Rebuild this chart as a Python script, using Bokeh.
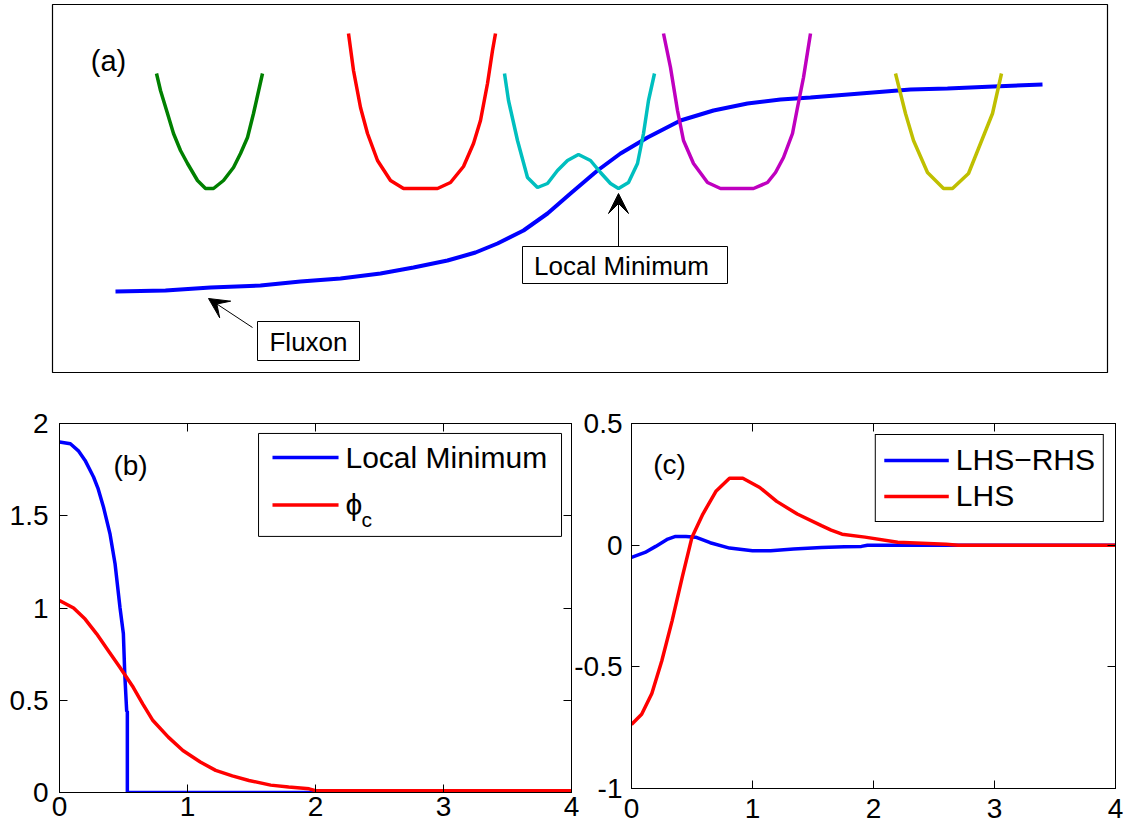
from bokeh.plotting import figure
from bokeh.models import (Range1d, LinearAxis, FixedTicker, Legend, LegendItem,
                          Arrow, VeeHead, CustomLabelingPolicy)
from bokeh.layouts import column, row
from bokeh.embed import file_html
from bokeh.resources import INLINE
from bokeh.core.properties import value

FONT = "Liberation Sans"

# ---------------- Panel (a): schematic (coordinates in picture units) ----------------
fluxon_x = [115, 165, 210, 260, 300, 340, 380, 413, 447, 475, 497, 523, 547, 570, 597, 620,
            647, 680, 713, 747, 780, 810, 860, 910, 947, 993, 1042]
fluxon_y = [291, 290, 287, 285, 281, 278, 273, 267, 260, 252, 243, 230, 213, 193, 170, 153,
            137, 120, 110, 103, 99, 97, 93, 89, 88, 86, 84]

well_green_x = [156, 160, 167, 173, 180, 187, 197, 205, 213, 223, 233, 240, 247, 253, 262]
well_green_y = [73, 90, 113, 133, 150, 163, 180, 188, 188, 180, 167, 153, 137, 113, 73]

well_red_x = [348, 353, 360, 367, 377, 390, 403, 437, 450, 463, 473, 480, 487, 492, 495]
well_red_y = [33, 70, 107, 133, 160, 180, 188, 188, 182, 166, 143, 120, 83, 50, 33]

well_cyan_x = [504, 508, 517, 527, 537, 547, 557, 567, 578, 590, 600, 610, 618, 628, 637, 643, 648, 654]
well_cyan_y = [73, 100, 140, 177, 187, 183, 170, 160, 154, 160, 172, 183, 188, 182, 163, 133, 100, 73]

well_mag_x = [663, 670, 677, 683, 693, 707, 720, 753, 767, 775, 783, 792, 797, 803, 810]
well_mag_y = [33, 67, 110, 140, 163, 182, 188, 188, 182, 172, 157, 133, 107, 77, 33]

well_yel_x = [895, 905, 913, 927, 943, 952, 968, 980, 992, 1001]
well_yel_y = [73, 113, 140, 172, 188, 188, 173, 143, 113, 73]

# ---------------- Panel (b) ----------------
b_x_locmin = [0, 0.085, 0.15, 0.2, 0.266, 0.3, 0.344, 0.395, 0.434, 0.473, 0.499, 0.51, 0.525, 0.53, 0.53, 4.0]
b_y_locmin = [1.90, 1.89, 1.85, 1.80, 1.71, 1.65, 1.546, 1.40, 1.24, 1.00, 0.86, 0.64, 0.44, 0.44, 0.0, 0.0]

b_x_phic = [0, 0.11, 0.2, 0.29, 0.38, 0.47, 0.576, 0.65, 0.73, 0.85, 0.964, 1.1, 1.22, 1.35,
            1.48, 1.65, 1.79, 1.95, 2.0, 3.0, 4.0]
b_y_phic = [1.04, 1.00, 0.94, 0.86, 0.77, 0.68, 0.57, 0.48, 0.39, 0.30, 0.228, 0.165, 0.12, 0.09,
            0.065, 0.04, 0.03, 0.02, 0.01, 0.01, 0.01]

# ---------------- Panel (c) ----------------
c_x_diff = [0, 0.112, 0.2, 0.3, 0.364, 0.45, 0.53, 0.65, 0.81, 1.0, 1.15, 1.34, 1.57, 1.76, 1.9, 1.95, 4.0]
c_y_diff = [-0.05, -0.03, -0.005, 0.025, 0.036, 0.036, 0.033, 0.01, -0.012, -0.023, -0.023, -0.016,
            -0.01, -0.006, -0.005, 0.0, 0.0]

c_x_lhs = [0, 0.084, 0.168, 0.25, 0.336, 0.42, 0.5, 0.59, 0.70, 0.81, 0.92, 1.06, 1.2, 1.37,
           1.57, 1.65, 1.74, 1.93, 2.2, 2.6, 2.7, 4.0]
c_y_lhs = [-0.737, -0.695, -0.61, -0.476, -0.31, -0.13, 0.033, 0.128, 0.223, 0.275, 0.275, 0.237,
           0.18, 0.128, 0.08, 0.062, 0.045, 0.033, 0.012, 0.004, 0.0, 0.0]

b_xticks = [0, 1, 2, 3, 4]
b_yticks = [0, 0.5, 1, 1.5, 2]
c_xticks = [0, 1, 2, 3, 4]
c_yticks = [-1, -0.5, 0, 0.5]
tick_text = {-1: "-1", -0.5: "-0.5", 0: "0", 0.5: "0.5", 1: "1", 1.5: "1.5", 2: "2", 3: "3", 4: "4"}

# legend of panel (b) (placed in axis units of panel b)
b_leg_labels = ["Local Minimum", "\u03d5"]
b_leg_box = (1.555, 3.922, 1.946, 1.388)      # left, right, top, bottom
b_leg_swatch_x = [1.664, 2.18]
b_leg_entry_y = [1.816, 1.558]
b_leg_text_x = 2.234

BLUE = "#0000ff"
RED = "#ff0000"

# ================= figure (a) =================
pa = figure(frame_width=1055, frame_height=369, min_border_left=52, min_border_right=28,
            min_border_top=4, min_border_bottom=0, x_range=Range1d(52, 1107),
            y_range=Range1d(373, 4), x_axis_type=None, y_axis_type=None, title=None,
            toolbar_location=None, output_backend="svg")
pa.grid.visible = False
pa.outline_line_color = "black"
pa.outline_line_width = 1.2

pa.line(fluxon_x, fluxon_y, line_color=BLUE, line_width=4)
pa.line(well_green_x, well_green_y, line_color="#008000", line_width=3.5)
pa.line(well_red_x, well_red_y, line_color=RED, line_width=3.5)
pa.line(well_cyan_x, well_cyan_y, line_color="#00bfbf", line_width=3.5)
pa.line(well_mag_x, well_mag_y, line_color="#bf00bf", line_width=3.5)
pa.line(well_yel_x, well_yel_y, line_color="#bfbf00", line_width=3.5)

pa.text(x=[108], y=[60], text=["(a)"], text_font=value(FONT), text_font_size="29px",
        text_align="center", text_baseline="middle", text_color="black")

box_left = [257, 522]
box_right = [359, 727]
box_top = [321, 246]
box_bottom = [360, 283]
pa.quad(left=box_left, right=box_right, top=box_top, bottom=box_bottom,
        fill_color="white", line_color="black", line_width=1)
pa.text(x=[308, 621], y=[341, 265], text=["Fluxon", "Local Minimum"], text_font=value(FONT),
        text_font_size="26px", text_align="center", text_baseline="middle", text_color="black")

pa.add_layout(Arrow(x_start=252, y_start=327, x_end=208, y_end=298, line_width=1,
                    line_color="black",
                    end=VeeHead(size=20, fill_color="black", line_color="black")))
pa.add_layout(Arrow(x_start=618, y_start=246, x_end=618, y_end=193, line_width=1,
                    line_color="black",
                    end=VeeHead(size=20, fill_color="black", line_color="black")))

HIDE_LABELS = "for (const i of indices) { indices.unset(i) }\nreturn indices"


def style_axes(p, xticks, yticks, xstand, ystand):
    for ax in p.xaxis + p.yaxis:
        ax.major_label_text_font = FONT
        ax.major_label_text_font_size = "28px"
        ax.major_label_text_color = "black"
        ax.major_tick_in = 8
        ax.major_tick_out = 0
        ax.minor_tick_line_color = None
        ax.axis_line_color = "black"
        ax.major_tick_line_color = "black"
        ax.major_label_overrides = tick_text
    p.xaxis.ticker = FixedTicker(ticks=xticks)
    p.yaxis.ticker = FixedTicker(ticks=yticks)
    p.xaxis.major_label_standoff = xstand
    p.yaxis.major_label_standoff = ystand
    p.grid.visible = False
    p.outline_line_color = "black"
    p.outline_line_width = 1
    # mirrored ticks (box on), without labels
    top = LinearAxis(ticker=FixedTicker(ticks=xticks), major_label_text_font_size="0px",
                     major_tick_in=8, major_tick_out=0, minor_tick_line_color=None,
                     major_label_standoff=0, axis_line_color="black",
                     major_label_policy=CustomLabelingPolicy(code=HIDE_LABELS))
    right = LinearAxis(ticker=FixedTicker(ticks=yticks), major_label_text_font_size="0px",
                       major_tick_in=8, major_tick_out=0, minor_tick_line_color=None,
                       major_label_standoff=0, axis_line_color="black",
                       major_label_policy=CustomLabelingPolicy(code=HIDE_LABELS))
    p.add_layout(top, "above")
    p.add_layout(right, "right")


# ================= figure (b) =================
pb = figure(frame_width=512, frame_height=369, min_border_left=59, min_border_right=10,
            min_border_top=50, min_border_bottom=40, x_range=Range1d(0, 4), y_range=Range1d(0, 2),
            title=None, toolbar_location=None, output_backend="svg")
style_axes(pb, b_xticks, b_yticks, 4, 11)
pb.line(b_x_locmin, b_y_locmin, line_color=BLUE, line_width=3.5)
pb.line(b_x_phic, b_y_phic, line_color=RED, line_width=3.5)
pb.text(x=[0.555], y=[1.77], text=["(b)"], text_font=value(FONT), text_font_size="28px",
        text_align="center", text_baseline="middle", text_color="black")

# legend box for (b), drawn with glyphs so that phi can carry its subscript c
l, r, t, btm = b_leg_box
pb.quad(left=[l], right=[r], top=[t], bottom=[btm], fill_color="white",
        line_color="black", line_width=1)
for yy, col in zip(b_leg_entry_y, [BLUE, RED]):
    pb.line(b_leg_swatch_x, [yy, yy], line_color=col, line_width=3.5)
pb.text(x=[b_leg_text_x, b_leg_text_x], y=[b_leg_entry_y[0], b_leg_entry_y[1] + 0.005],
        text=b_leg_labels, text_font=value(FONT), text_font_size="30px",
        text_align="left", text_baseline="middle", text_color="black")
pb.text(x=[2.36], y=[1.48], text=["c"], text_font=value(FONT), text_font_size="21px",
        text_align="left", text_baseline="middle", text_color="black")

# ================= figure (c) =================
pc = figure(frame_width=484, frame_height=365, min_border_left=59, min_border_right=21,
            min_border_top=46, min_border_bottom=48, x_range=Range1d(0, 4),
            y_range=Range1d(-1, 0.5), title=None, toolbar_location=None, output_backend="svg")
style_axes(pc, c_xticks, c_yticks, 10, 9)
pc.border_fill_color = None
rc1 = pc.line(c_x_diff, c_y_diff, line_color=BLUE, line_width=3.5)
rc2 = pc.line(c_x_lhs, c_y_lhs, line_color=RED, line_width=3.5)
pc.text(x=[0.314], y=[0.33], text=["(c)"], text_font=value(FONT), text_font_size="28px",
        text_align="center", text_baseline="middle", text_color="black")
leg_c = Legend(items=[LegendItem(label="LHS\u2212RHS", renderers=[rc1]),
                      LegendItem(label="LHS", renderers=[rc2])],
               location="top_right", margin=11, padding=8, spacing=2, glyph_width=65,
               glyph_height=30, label_height=30, label_standoff=7,
               label_text_font=FONT, label_text_font_size="30px", label_text_color="black",
               border_line_color="black", border_line_width=1, border_line_alpha=1.0,
               background_fill_alpha=1.0)
pc.add_layout(leg_c)
pc.styles = {"margin-left": "-10px"}

layout = column(pa, row(pb, pc))
open("out.html", "w").write(file_html(layout, INLINE))
